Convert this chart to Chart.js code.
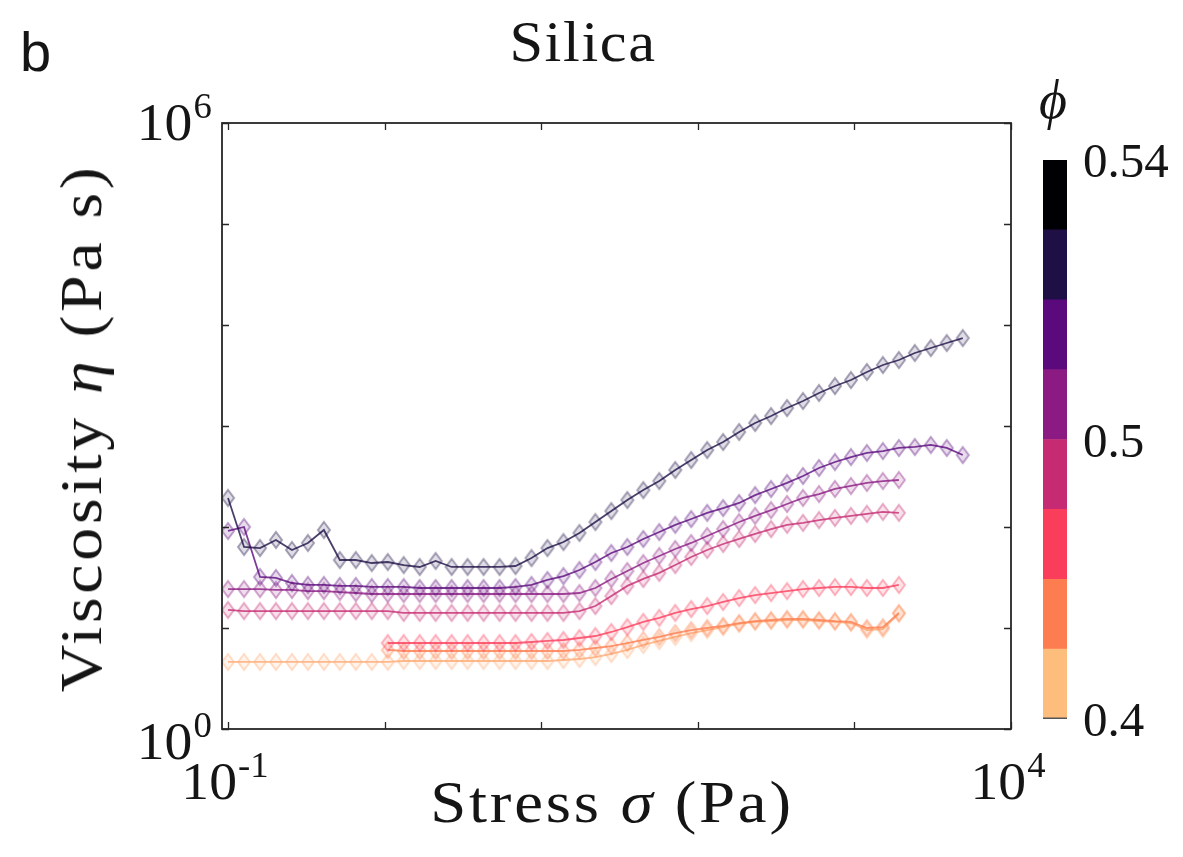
<!DOCTYPE html>
<html>
<head>
<meta charset="utf-8">
<title>Silica</title>
<script src="https://cdn.jsdelivr.net/npm/chart.js@4.4.1/dist/chart.umd.min.js"></script>
<style>
  html, body { margin: 0; padding: 0; background: #fff; }
  #wrap { position: relative; width: 1183px; height: 857px; overflow: hidden;
          font-family: "Liberation Serif", "DejaVu Serif", serif; color: #151515; }
  #main { position: absolute; left: 0; top: 0; }
  #cbar { position: absolute; left: 1043px; top: 160px; }
  .t { position: absolute; white-space: nowrap; line-height: 1; }
  .tick { position: absolute; white-space: nowrap; font-size: 53px; line-height: 53px; height: 53px; }
  .tick .exp { font-size: 0.66em; position: relative; top: -0.62em; margin-left: 1px; }
  .cbl { position: absolute; white-space: nowrap; font-size: 49px; line-height: 49px; height: 49px; }
</style>
</head>
<body>
<div id="wrap">
  <canvas id="main" width="1183" height="857"></canvas>
  <canvas id="cbar" width="24" height="559"></canvas>
  <div class="t" style="left:20px; top:24px; font-family:'Liberation Sans','DejaVu Sans',sans-serif; font-size:56px;">b</div>
  <div class="t" style="left:583px; top:41px; transform:translate(-50%,-50%) scaleX(1.06); letter-spacing:1.5px; font-size:57px;">Silica</div>
  <div class="t" style="left:81px; top:428px; transform:translate(-50%,-50%) rotate(-90deg) scaleX(1.1); letter-spacing:3.3px; font-size:60px;">Viscosity <i>η</i> (Pa s)</div>
  <div class="t" style="left:612px; top:802px; transform:translate(-50%,-50%) scaleX(1.08); letter-spacing:2.6px; font-size:60px;">Stress <i>σ</i> (Pa)</div>
  <div class="t" style="left:1053px; top:100px; transform:translate(-50%,-50%); font-size:54px;"><i>ϕ</i></div>
</div>
<script>
// Shear stress grid (Pa), shared by all sweeps
const stress = [
  0.1, 0.1265, 0.160, 0.2023, 0.2559, 0.3236, 0.4093, 0.5176, 0.6546, 0.8279,
  1.047, 1.324, 1.675, 2.118, 2.679, 3.388, 4.285, 5.420, 6.855, 8.670,
  10.96, 13.87, 17.54, 22.18, 28.05, 35.48, 44.87, 56.75, 71.78, 90.78,
  114.8, 145.2, 183.7, 232.3, 293.8, 371.5, 469.9, 594.3, 751.6, 950.6,
  1202, 1521, 1923, 2432, 3076, 3890, 4920
];

// Viscosity (Pa s) for each packing fraction, densest first
const eta1 = [
  194, 63.4, 61.9, 74.4, 59.2, 69.5, 93.4, 47.1, 47.1, 44.0,
  45.0, 42.0, 40.2, 46.1, 40.2, 40.2, 40.2, 40.2, 41.1, 49.3,
  61.9, 71.0, 87.3, 112, 144, 185, 232, 285, 367, 460,
  578, 695, 873, 1071, 1256, 1507, 1770, 2123, 2489, 2853,
  3427, 4018, 4500, 5284, 5918, 6634, 7430
];
const eta2 = [
  91.3, 100, 32.0, 31.3, 27.9, 26.7, 26.7, 26.1, 26.1, 25.5,
  25.5, 25.5, 24.9, 24.9, 24.9, 24.9, 24.9, 24.9, 25.5, 26.7,
  29.9, 32.7, 37.5, 45.0, 55.3, 63.4, 76.1, 89.2, 105, 120,
  138, 154, 173, 207, 238, 273, 320, 384, 440, 493,
  541, 565, 606, 620, 649, 606, 516
];
const eta3 = [
  24.3, 24.3, 24.3, 23.8, 23.8, 23.2, 23.2, 22.7, 22.2, 21.7,
  21.7, 21.7, 21.7, 21.7, 21.7, 21.7, 21.7, 21.7, 21.7, 21.7,
  21.7, 21.7, 22.2, 24.9, 30.6, 36.7, 44.0, 51.6, 60.6, 69.5,
  81.5, 95.5, 112, 129, 147, 169, 194, 212, 238, 255,
  273, 285, 292
];
const eta4 = [
  15.1, 14.7, 14.7, 14.7, 14.7, 14.7, 14.7, 14.7, 14.7, 14.7,
  14.7, 14.1, 14.1, 14.1, 14.1, 14.1, 14.1, 14.1, 14.1, 14.1,
  14.1, 14.1, 14.7, 16.5, 20.7, 26.1, 30.6, 35.1, 42.0, 50.5,
  59.2, 67.9, 76.1, 85.3, 95.5, 105, 110, 117, 123, 129,
  135, 141, 138
];
const eta5 = [
  7.10, 7.10, 7.10, 7.10, 7.10, 7.10, 7.10, 7.10, 7.10, 7.27,
  7.44, 7.61, 7.96, 8.33, 9.13, 10.2, 11.5, 12.6, 14.1, 15.4,
  16.5, 18.1, 19.8, 21.2, 22.2, 23.2, 24.3, 24.9, 25.5, 25.5,
  24.9, 24.9, 26.7
];
const eta6 = [
  6.06, 5.92, 5.92, 5.92, 5.92, 5.92, 5.92, 5.92, 5.92, 5.92,
  5.92, 5.92, 6.06, 6.34, 6.63, 7.10, 7.61, 8.15, 8.92, 9.55,
  10.0, 10.5, 11.2, 11.7, 12.0, 12.3, 12.3, 12.0, 11.7, 11.5,
  10.0, 10.2, 14.1
];
const eta7 = [
  4.61, 4.61, 4.61, 4.61, 4.61, 4.61, 4.61, 4.61, 4.61, 4.61,
  4.61, 4.71, 4.71, 4.71, 4.71, 4.71, 4.71, 4.71, 4.71, 4.71,
  4.71, 4.82, 4.93, 5.16, 5.53, 6.06, 6.79, 7.44, 8.15, 8.92,
  9.55, 10.2, 11.0, 11.5, 11.7, 12.0, 12.0, 11.7, 11.5, 11.2,
  9.55, 9.77, 13.8
];
const etaSeries = [eta1, eta2, eta3, eta4, eta5, eta6, eta7];
// index into the stress grid where each sweep starts
const firstIndex = [0, 0, 0, 0, 10, 10, 0];
const seriesColors = ['#1e0f45', '#5a0a7c', '#8b1a82', '#c52a72', '#fb3d5c', '#fc7d50', '#fcaa74'];

// Colour bar levels, bottom to top, and its tick labels
const phiColors = ['#fdbd7c', '#fc7d50', '#fb3d5c', '#c52a72', '#8b1a82', '#5a0a7c', '#1e0f45', '#000004'];
const phiTickPos = [0, 4, 8];
const phiTickLabels = ['0.4', '0.5', '0.54'];

// Axis decades and the ones that carry a label
const xDecades = [0.1, 1, 10, 100, 1000, 10000];
const yDecades = [1, 10, 100, 1000, 10000, 100000, 1000000];
const xLabelled = [{ v: 0.1, e: '-1' }, { v: 10000, e: '4' }];
const yLabelled = [{ v: 1, e: '0' }, { v: 1000000, e: '6' }];

function rgba(hex, a) {
  const n = parseInt(hex.slice(1), 16);
  return 'rgba(' + ((n >> 16) & 255) + ',' + ((n >> 8) & 255) + ',' + (n & 255) + ',' + a + ')';
}

// open diamond marker, a little taller than wide
function diamond(hex) {
  const c = document.createElement('canvas');
  c.width = 16; c.height = 20;
  const g = c.getContext('2d');
  g.beginPath();
  g.moveTo(8, 2); g.lineTo(14, 10); g.lineTo(8, 18); g.lineTo(2, 10); g.closePath();
  g.fillStyle = rgba(hex, 0.14); g.fill();
  g.strokeStyle = rgba(hex, 0.38); g.lineWidth = 2; g.stroke();
  return c;
}

const datasets = etaSeries.map((vals, i) => ({
  data: vals.map((v, j) => ({ x: stress[firstIndex[i] + j], y: v })),
  showLine: true,
  borderColor: rgba(seriesColors[i], 0.8),
  borderWidth: 1.8,
  pointStyle: diamond(seriesColors[i]),
  pointRadius: 8,
  tension: 0
}));

// box with inward ticks on all four sides
const frame = {
  id: 'frame',
  afterDatasetsDraw(chart) {
    const { ctx, chartArea: a, scales: { x, y } } = chart;
    ctx.save();
    ctx.strokeStyle = '#262626';
    ctx.lineWidth = 1.3;
    ctx.beginPath();
    xDecades.forEach(v => {
      const p = Math.round(x.getPixelForValue(v)) + 0.5;
      ctx.moveTo(p, a.bottom); ctx.lineTo(p, a.bottom - 7);
      ctx.moveTo(p, a.top); ctx.lineTo(p, a.top + 7);
    });
    yDecades.forEach(v => {
      const p = Math.round(y.getPixelForValue(v)) + 0.5;
      ctx.moveTo(a.left, p); ctx.lineTo(a.left + 7, p);
      ctx.moveTo(a.right, p); ctx.lineTo(a.right - 7, p);
    });
    ctx.stroke();
    ctx.lineWidth = 1.8;
    ctx.strokeRect(a.left, a.top, a.right - a.left, a.bottom - a.top);
    ctx.restore();
  }
};

const main = new Chart(document.getElementById('main'), {
  type: 'scatter',
  data: { datasets },
  options: {
    responsive: false, animation: false, devicePixelRatio: 1, events: [],
    layout: { padding: { left: 222, right: 172, top: 123, bottom: 128 } },
    plugins: { legend: { display: false }, tooltip: { enabled: false } },
    scales: {
      x: { type: 'logarithmic', min: 0.0915, max: 10000, display: false },
      y: { type: 'logarithmic', min: 1, max: 1000000, display: false }
    }
  },
  plugins: [frame]
});

const cbarEdge = {
  id: 'cbarEdge',
  afterDraw(chart) {
    const { ctx, chartArea: a } = chart;
    ctx.save();
    ctx.strokeStyle = '#555';
    ctx.lineWidth = 1.5;
    ctx.beginPath(); ctx.moveTo(a.left, a.bottom - 0.75); ctx.lineTo(a.right, a.bottom - 0.75); ctx.stroke();
    ctx.restore();
  }
};

const cbar = new Chart(document.getElementById('cbar'), {
  type: 'bar',
  data: {
    labels: ['ϕ'],
    datasets: phiColors.map(c => ({
      data: [1], backgroundColor: c, borderWidth: 0,
      barPercentage: 1, categoryPercentage: 1
    }))
  },
  options: {
    responsive: false, animation: false, devicePixelRatio: 1, events: [],
    layout: { padding: 0 },
    plugins: { legend: { display: false }, tooltip: { enabled: false } },
    scales: {
      x: { stacked: true, display: false },
      y: { stacked: true, min: 0, max: phiColors.length, display: false }
    }
  },
  plugins: [cbarEdge]
});

// tick labels placed from the scales
const wrap = document.getElementById('wrap');
function tickLabel(exp, left, top, tf) {
  const d = document.createElement('div');
  d.className = 'tick';
  d.innerHTML = '10<span class="exp">' + exp + '</span>';
  d.style.left = left + 'px';
  d.style.top = top + 'px';
  d.style.transform = tf;
  wrap.appendChild(d);
}
const xs = main.scales.x, ys = main.scales.y;
xLabelled.forEach(t => tickLabel(t.e, xs.getPixelForValue(t.v) - 3, 781, 'translate(-50%,-50%) scaleX(1.05)'));
yLabelled.forEach((t, i) => tickLabel(t.e, 210, ys.getPixelForValue(t.v) + (i === 0 ? 12 : -1), 'translate(-100%,-50%) scaleX(1.05)'));

const cy = cbar.scales.y;
phiTickPos.forEach((p, i) => {
  const d = document.createElement('div');
  d.className = 'cbl';
  d.textContent = phiTickLabels[i];
  d.style.left = '1083px';
  d.style.top = (160 + cy.getPixelForValue(p)) + 'px';
  d.style.transform = 'translateY(-50%)';
  wrap.appendChild(d);
});
</script>
</body>
</html>
